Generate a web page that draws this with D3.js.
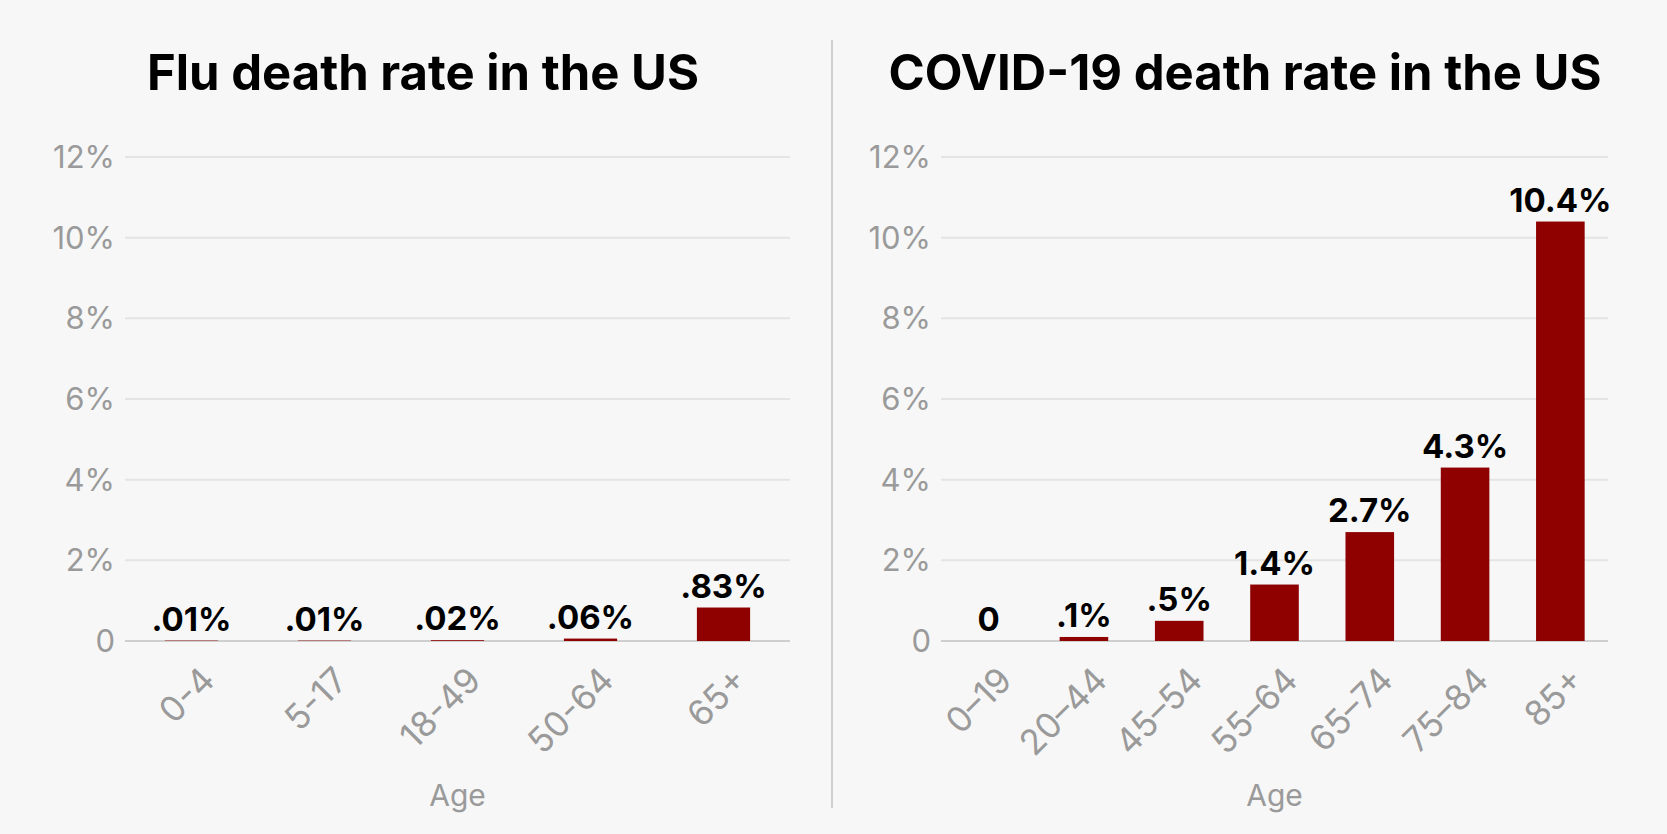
<!DOCTYPE html>
<html><head><meta charset="utf-8">
<script src="https://cdn.jsdelivr.net/npm/d3@7"></script>
<style>
body{margin:0;background:#f7f7f7;font-family:Inter,"Noto Sans",sans-serif;}
</style></head>
<body><svg width="1667" height="834"></svg>
<script>
// data
const fluAges = ["0-4", "5-17", "18-49", "50-64", "65+"];
const fluRates = [0.01, 0.01, 0.02, 0.06, 0.83];
const fluLabels = [".01%", ".01%", ".02%", ".06%", ".83%"];
const covidAges = ["0\u201319", "20\u201344", "45\u201354", "55\u201364", "65\u201374", "75\u201384", "85+"];
const covidRates = [0, 0.1, 0.5, 1.4, 2.7, 4.3, 10.4];
const covidLabels = ["0", ".1%", ".5%", "1.4%", "2.7%", "4.3%", "10.4%"];
const yTicks = [0, 2, 4, 6, 8, 10, 12];

const svg = d3.select("svg");
svg.append("rect").attr("width", 1667).attr("height", 834).attr("fill", "#f7f7f7");

// divider
svg.append("line").attr("x1", 832).attr("x2", 832).attr("y1", 40).attr("y2", 808)
  .attr("stroke", "#d0d0d0").attr("stroke-width", 2);

const y = d3.scaleLinear().domain([0, 12]).range([641, 157]);

function panel(title, ages, rates, labels, x0, x1, padding, titleX) {
  const g = svg.append("g");
  const x = d3.scaleBand().domain(ages).range([x0, x1]).paddingInner(padding).paddingOuter(padding / 2);

  g.append("text").attr("x", titleX).attr("y", 90).attr("text-anchor", "middle")
    .attr("font-size", 49).attr("font-weight", 700).attr("fill", "#000").text(title);

  g.selectAll(".grid").data(yTicks).enter().append("line")
    .attr("x1", x0).attr("x2", x1).attr("y1", d => y(d)).attr("y2", d => y(d))
    .attr("stroke", d => d === 0 ? "#cfcfcf" : "#e4e4e4").attr("stroke-width", 2);

  g.selectAll(".ytick").data(yTicks).enter().append("text")
    .attr("x", x0 - 10).attr("y", d => y(d) + 11).attr("text-anchor", "end")
    .attr("font-size", 31).attr("fill", "#9a9a9a").text(d => d === 0 ? "0" : d + "%");

  g.selectAll(".bar").data(rates).enter().append("rect")
    .attr("x", (d, i) => x(ages[i])).attr("width", x.bandwidth())
    .attr("y", d => y(d)).attr("height", d => y(0) - y(d)).attr("fill", "#8f0000");

  g.selectAll(".val").data(rates).enter().append("text")
    .attr("x", (d, i) => x(ages[i]) + x.bandwidth() / 2).attr("y", d => y(d) - 10)
    .attr("text-anchor", "middle").attr("font-size", 33).attr("font-weight", 700).attr("fill", "#000")
    .text((d, i) => labels[i]);

  g.selectAll(".xl").data(ages).enter().append("text")
    .attr("transform", d => `translate(${x(d) + x.bandwidth() / 2 + 8},${y(0) + 24}) rotate(-45)`)
    .attr("text-anchor", "end").attr("dy", "0.7em")
    .attr("font-size", 35).attr("fill", "#9a9a9a").text(d => d);

  g.append("text").attr("x", (x0 + x1) / 2).attr("y", 806).attr("text-anchor", "middle")
    .attr("font-size", 30).attr("fill", "#9a9a9a").text("Age");
}

panel("Flu death rate in the US", fluAges, fluRates, fluLabels, 125, 790, 0.6, 423);
panel("COVID-19 death rate in the US", covidAges, covidRates, covidLabels, 941, 1608, 0.49, 1245);
</script></body></html>
